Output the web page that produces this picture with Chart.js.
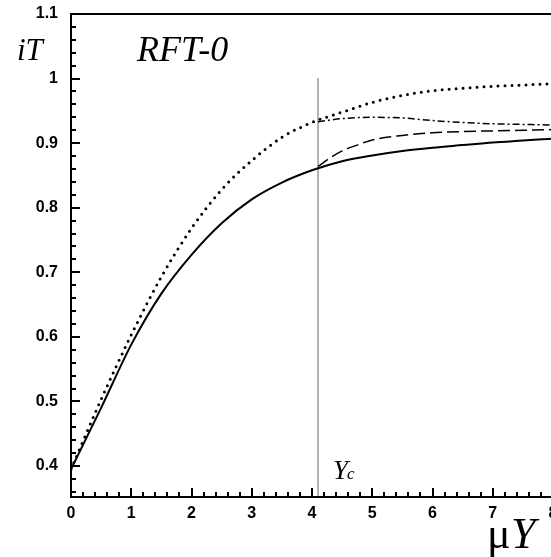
<!DOCTYPE html>
<html>
<head>
<meta charset="utf-8">
<script src="https://cdn.jsdelivr.net/npm/chart.js@4.4.1/dist/chart.umd.min.js"></script>
<style>
  html, body { margin: 0; padding: 0; background: #fff; overflow: hidden; }
  #wrap { width: 560px; height: 557px; }
</style>
</head>
<body>
<div id="wrap"><canvas id="rftChart" width="560" height="557"></canvas></div>
<script>
// Werte
const xFull = [0, 0.5, 1, 1.5, 2, 2.5, 3, 3.5, 4, 4.5, 5, 5.5, 6, 6.5, 7, 7.5, 8];
const solidValues = [0.395, 0.49, 0.588, 0.667, 0.727, 0.776, 0.813, 0.839, 0.858, 0.872, 0.881, 0.888, 0.893, 0.897, 0.901, 0.904, 0.907];
const dottedValues = [0.395, 0.503, 0.603, 0.693, 0.768, 0.828, 0.873, 0.909, 0.932, 0.948, 0.963, 0.974, 0.981, 0.985, 0.988, 0.990, 0.992];

const xDashed = [4.1, 4.3, 4.5, 4.75, 5, 5.5, 6, 6.5, 7, 7.5, 8];
const dashedValues = [0.864, 0.877, 0.888, 0.897, 0.905, 0.912, 0.916, 0.918, 0.919, 0.920, 0.921];

const xDashDot = [4.1, 4.5, 5, 5.5, 6, 6.5, 7, 7.5, 8];
const dashDotValues = [0.933, 0.938, 0.940, 0.939, 0.935, 0.932, 0.930, 0.929, 0.928];

const yc = 4.1;
const ycTop = 1.0;

const xTicks = [0, 1, 2, 3, 4, 5, 6, 7, 8];
const yTicks = [0.4, 0.5, 0.6, 0.7, 0.8, 0.9, 1, 1.1];
const yMin = 0.352;
const yMax = 1.1;

const pts = (xs, ys) => xs.map((x, i) => ({ x: x, y: ys[i] }));

// Rahmen, Ticks nach innen und Beschriftungen
const framePlugin = {
  id: "frame",
  afterDraw(chart) {
    const { ctx, chartArea: a, scales } = chart;
    const xs = scales.x, ys = scales.y;
    ctx.save();
    ctx.strokeStyle = "#000";
    ctx.lineWidth = 2;
    ctx.beginPath();
    ctx.moveTo(a.left, a.top); ctx.lineTo(a.right, a.top);
    ctx.moveTo(a.left, a.top - 1); ctx.lineTo(a.left, a.bottom + 1);
    ctx.moveTo(a.left - 1, a.bottom); ctx.lineTo(a.right, a.bottom);
    ctx.moveTo(a.right, a.top); ctx.lineTo(a.right, a.bottom);
    ctx.stroke();

    ctx.beginPath();
    for (let k = 36; k <= 110; k += 2) {
      const py = Math.round(ys.getPixelForValue(k / 100));
      const len = k % 10 === 0 ? 9 : 5;
      ctx.moveTo(a.left, py); ctx.lineTo(a.left + len, py);
    }
    for (let k = 0; k <= 40; k++) {
      const px = Math.round(xs.getPixelForValue(k / 5));
      const len = k % 5 === 0 ? 9 : 5;
      ctx.moveTo(px, a.bottom); ctx.lineTo(px, a.bottom - len);
    }
    ctx.stroke();

    ctx.fillStyle = "#000";
    ctx.textBaseline = "alphabetic";
    ctx.font = "italic 31px 'Liberation Serif'";
    ctx.fillText("iT", 17, 60);
    ctx.font = "italic 36px 'Liberation Serif'";
    ctx.fillText("RFT-0", 137, 61);
    ctx.font = "italic 27px 'Liberation Serif'";
    ctx.fillText("Y", 333, 479);
    ctx.font = "italic 17px 'Liberation Serif'";
    ctx.fillText("c", 347, 479);
    ctx.font = "44px 'Liberation Serif'";
    ctx.fillText("\u03bc", 487, 548);
    ctx.font = "italic 44px 'Liberation Serif'";
    ctx.fillText("Y", 511, 548);
    ctx.restore();
  },
};

const ctx = document.getElementById("rftChart").getContext("2d");
new Chart(ctx, {
  type: "line",
  data: {
    datasets: [
      {
        label: "solid",
        data: pts(xFull, solidValues),
        borderColor: "#000",
        borderWidth: 2,
        cubicInterpolationMode: "monotone",
      },
      {
        label: "dotted",
        data: pts(xFull, dottedValues),
        borderColor: "#000",
        borderWidth: 3,
        borderDash: [0, 7],
        borderCapStyle: "round",
        cubicInterpolationMode: "monotone",
      },
      {
        label: "dashed",
        data: pts(xDashed, dashedValues),
        borderColor: "#000",
        borderWidth: 1.5,
        borderDash: [12, 5],
        cubicInterpolationMode: "monotone",
      },
      {
        label: "dashdot",
        data: pts(xDashDot, dashDotValues),
        borderColor: "#000",
        borderWidth: 1.5,
        borderDash: [7, 3, 2, 3],
        cubicInterpolationMode: "monotone",
      },
      {
        label: "Yc",
        data: [{ x: yc, y: ycTop }, { x: yc, y: yMin }],
        borderColor: "#000",
        borderWidth: 1.2,
        borderDash: [1, 1],
      },
    ],
  },
  options: {
    responsive: false,
    animation: false,
    devicePixelRatio: 1,
    elements: { point: { radius: 0 } },
    layout: { padding: { left: 0, top: 14, right: 7, bottom: 0 } },
    plugins: { legend: { display: false }, tooltip: { enabled: false } },
    scales: {
      x: {
        type: "linear",
        min: 0,
        max: 8,
        afterFit: (s) => { s.height = 60; s.paddingLeft = 0; s.paddingRight = 0; },
        afterBuildTicks: (s) => { s.ticks = xTicks.map((v) => ({ value: v })); },
        grid: { display: false, drawTicks: false },
        border: { display: false },
        ticks: {
          color: "#000",
          font: { family: "'Liberation Sans'", weight: "bold", size: 16 },
          padding: 7,
          maxRotation: 0,
        },
      },
      y: {
        type: "linear",
        min: yMin,
        max: yMax,
        afterFit: (s) => { s.width = 71; s.paddingTop = 0; s.paddingBottom = 0; },
        afterBuildTicks: (s) => { s.ticks = yTicks.map((v) => ({ value: v })); },
        grid: { display: false, drawTicks: false },
        border: { display: false },
        ticks: {
          color: "#000",
          font: { family: "'Liberation Sans'", weight: "bold", size: 16 },
          padding: 13,
          callback: (v) => String(Math.round(v * 10) / 10),
        },
      },
    },
  },
  plugins: [framePlugin],
});
</script>
</body>
</html>
